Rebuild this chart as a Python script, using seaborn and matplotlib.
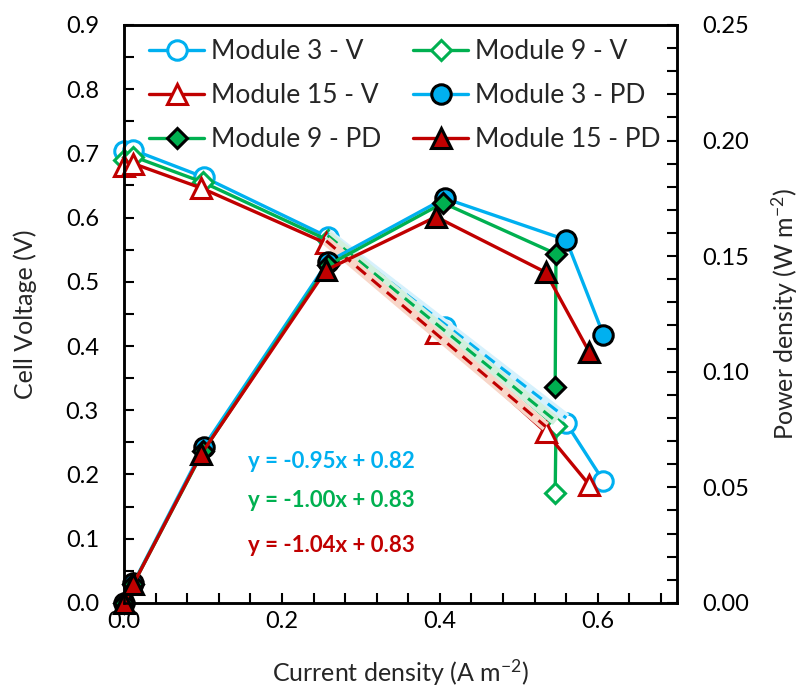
import numpy as np
import pandas as pd
import matplotlib
matplotlib.use("Agg")
import matplotlib.pyplot as plt
import seaborn as sns
from matplotlib.ticker import MultipleLocator, FormatStrFormatter

sns.set_theme(style="ticks")
plt.rcParams['font.family'] = ['Lato', 'DejaVu Sans']
plt.rcParams['mathtext.fontset'] = 'custom'
plt.rcParams['mathtext.rm'] = 'Lato'
plt.rcParams['mathtext.default'] = 'regular'

# current density (A m-2)
cd_m3 = [0.0, 0.012, 0.101, 0.258, 0.406, 0.560, 0.607]
cd_m9 = [0.0, 0.012, 0.100, 0.258, 0.404, 0.547, 0.546]
cd_m15 = [0.0, 0.012, 0.098, 0.256, 0.395, 0.534, 0.589]

# cell voltage (V)
v_m3 = [0.703, 0.705, 0.663, 0.570, 0.430, 0.280, 0.190]
v_m9 = [0.690, 0.695, 0.655, 0.565, 0.425, 0.275, 0.171]
v_m15 = [0.680, 0.684, 0.646, 0.560, 0.420, 0.266, 0.184]

# power density (W m-2)
pd_m3 = [0.0, 0.0086, 0.0675, 0.1475, 0.175, 0.157, 0.116]
pd_m9 = [0.0, 0.0083, 0.0655, 0.1460, 0.173, 0.151, 0.0935]
pd_m15 = [0.0, 0.0082, 0.0645, 0.1440, 0.167, 0.143, 0.1086]

# linear trendlines on the voltage curves
trend_slope = [-0.95, -1.00, -1.04]
trend_icpt = [0.82, 0.83, 0.83]
trend_from = [0.258, 0.258, 0.256]
trend_to = [0.560, 0.547, 0.534]

modules = ["Module 3", "Module 9", "Module 15"]
colors = ["#00B0F0", "#00B050", "#C00000"]
light = ["#d6f1fc", "#d2efdd", "#f8d6c8"]
markers = ["o", "D", "^"]
msizes = [14, 10, 14]

cds = [cd_m3, cd_m9, cd_m15]
vs = [v_m3, v_m9, v_m15]
pds = [pd_m3, pd_m9, pd_m15]

fig = plt.figure(figsize=(8, 6.93), dpi=100)
ax1 = fig.add_axes([0.155, 0.130, 0.691, 0.834])
ax2 = ax1.twinx()

v_handles = []
pd_handles = []
for i, name in enumerate(modules):
    sns.lineplot(x=cds[i], y=vs[i], ax=ax1, estimator=None, sort=False, legend=False,
                 color=colors[i], linewidth=2.4, marker=markers[i], markersize=msizes[i],
                 markerfacecolor="white", markeredgecolor=colors[i], markeredgewidth=2.2,
                 label=name + " - V", clip_on=False)
    v_handles.append(ax1.lines[-1])

for i, name in enumerate(modules):
    # trendline: pale band plus dashed line
    tx = np.array([trend_from[i], trend_to[i]])
    ty = trend_slope[i] * tx + trend_icpt[i]
    ax1.plot(tx, ty, color=light[i], linewidth=7, solid_capstyle="butt", zorder=3)
    ax1.plot(tx, ty, color=colors[i], linewidth=2.2, linestyle=(0, (4, 2.5)), zorder=3)

for i, name in enumerate(modules):
    sns.lineplot(x=cds[i], y=pds[i], ax=ax2, estimator=None, sort=False, legend=False,
                 color=colors[i], linewidth=2.4, marker=markers[i], markersize=msizes[i],
                 markerfacecolor=colors[i], markeredgecolor="black", markeredgewidth=2.2,
                 label=name + " - PD", clip_on=False)
    pd_handles.append(ax2.lines[-1])

ax1.set_xlim(0, 0.7)
ax1.set_ylim(0, 0.9)
ax2.set_ylim(0, 0.25)

ax1.xaxis.set_major_locator(MultipleLocator(0.2))
ax1.xaxis.set_minor_locator(MultipleLocator(0.04))
ax1.yaxis.set_major_locator(MultipleLocator(0.1))
ax1.yaxis.set_minor_locator(MultipleLocator(0.05))
ax2.yaxis.set_major_locator(MultipleLocator(0.05))
ax2.yaxis.set_minor_locator(MultipleLocator(0.01))
ax1.xaxis.set_major_formatter(FormatStrFormatter("%.1f"))
ax1.yaxis.set_major_formatter(FormatStrFormatter("%.1f"))
ax2.yaxis.set_major_formatter(FormatStrFormatter("%.2f"))

for ax in (ax1, ax2):
    for s in ax.spines.values():
        s.set_linewidth(1.8)
        s.set_color("black")
    ax.tick_params(which="both", direction="in", length=7, width=1.5, colors="black",
                   labelsize=17, pad=18)
ax1.tick_params(axis="x", which="both", top=False, pad=6)
ax1.tick_params(axis="y", which="both", right=False)

ax1.set_xlabel("Current density (A m$^{-2}$)", fontsize=18, labelpad=18)
ax1.set_ylabel("Cell Voltage (V)", fontsize=18, labelpad=21)
ax2.set_ylabel("Power density (W m$^{-2}$)", fontsize=18, labelpad=15)

eq_y = [0.244, 0.178, 0.100]
for i in range(3):
    ax1.text(0.224, eq_y[i], f"y = {trend_slope[i]:.2f}x + {trend_icpt[i]:.2f}",
             transform=ax1.transAxes, ha="left", va="center", color=colors[i],
             fontsize=16, fontweight="bold")

# row-wise order: matplotlib fills columns first
handles = [v_handles[0], v_handles[2], pd_handles[1], v_handles[1], pd_handles[0], pd_handles[2]]
labels = [h.get_label() for h in handles]
ax2.legend(handles, labels, ncol=2, loc="upper left", bbox_to_anchor=(0.045, 0.975),
           frameon=False, fontsize=19, handlelength=2.1, columnspacing=1.2,
           labelspacing=0.72, handletextpad=0.25, borderpad=0, borderaxespad=0)

fig.savefig("out.png", dpi=100)
